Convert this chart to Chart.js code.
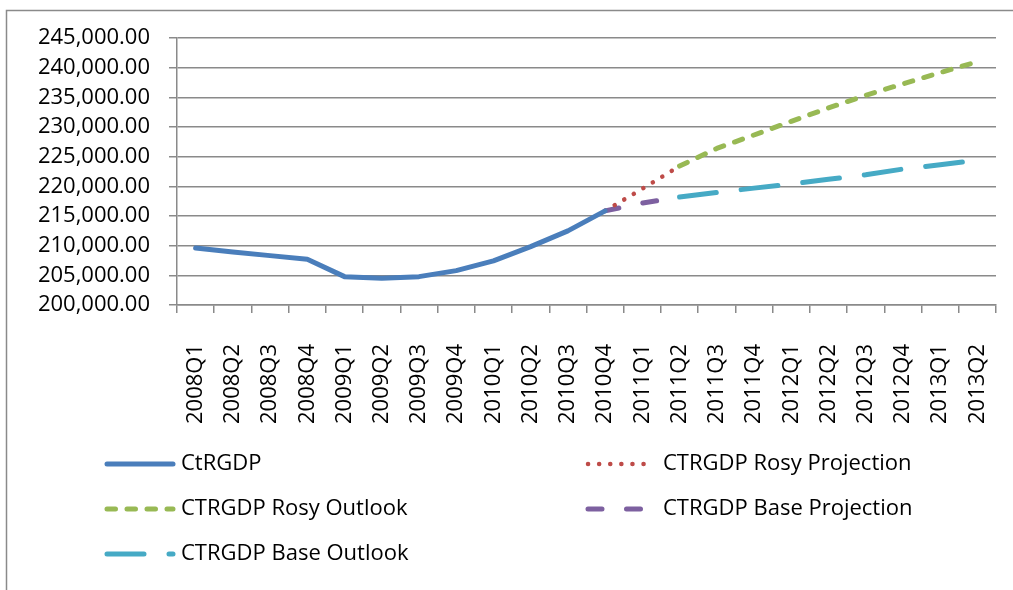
<!DOCTYPE html>
<html>
<head>
<meta charset="utf-8">
<script src="https://cdn.jsdelivr.net/npm/chart.js@4.4.0/dist/chart.umd.min.js"></script>
<style>
  html, body { margin: 0; padding: 0; background: #fff; }
  #wrap { width: 1013px; height: 590px; position: relative; }
</style>
</head>
<body>
<div id="wrap"><canvas id="gdpChart"></canvas></div>
<script>
const quarters = [
    '2008Q1', '2008Q2', '2008Q3', '2008Q4', '2009Q1', '2009Q2', '2009Q3', '2009Q4',
    '2010Q1', '2010Q2', '2010Q3', '2010Q4', '2011Q1', '2011Q2', '2011Q3', '2011Q4',
    '2012Q1', '2012Q2', '2012Q3', '2012Q4', '2013Q1', '2013Q2'
];

// actual real GDP, then the two projections and outlooks
const ctRgdp = [209600, 208950, 208320, 207720, 204780, 204510, 204780, 205790,
    207430, 209840, 212490, 215870, null, null, null, null,
    null, null, null, null, null, null];
const rosyProjection = [null, null, null, null, null, null, null, null,
    null, null, null, 215870, 219590, 223420, null, null,
    null, null, null, null, null, null];
const rosyOutlook = [null, null, null, null, null, null, null, null,
    null, null, null, null, null, 223420, 226390, 228650,
    230950, 233210, 235340, 237270, 239170, 241000];
const baseProjection = [null, null, null, null, null, null, null, null,
    null, null, null, 215870, 217170, 218190, null, null,
    null, null, null, null, null, null];
const baseOutlook = [null, null, null, null, null, null, null, null,
    null, null, null, null, null, 218190, 218960, 219700,
    220380, 221190, 221950, 222910, 223640, 224430];

const seriesLabels = ['CtRGDP', 'CTRGDP Rosy Projection', 'CTRGDP Rosy Outlook',
    'CTRGDP Base Projection', 'CTRGDP Base Outlook'];

const yMin = 200000;
const yMax = 245000;
const yStep = 5000;

const FONT = "'Open Sans', 'DejaVu Sans', sans-serif";
const gridColor = '#8a8a8a';

function makeLine(label, data, color, width, dash) {
    return {
        label: label,
        data: data,
        borderColor: color,
        backgroundColor: color,
        borderWidth: width,
        borderDash: dash,
        borderCapStyle: 'round',
        borderJoinStyle: 'round',
        pointRadius: 0,
        pointHoverRadius: 0,
        tension: 0,
        fill: false,
        spanGaps: false
    };
}

const datasets = [
    makeLine(seriesLabels[0], ctRgdp, '#4a7ebb', 5, []),
    makeLine(seriesLabels[1], rosyProjection, '#be4b48', 4.5, [0.1, 11]),
    makeLine(seriesLabels[2], rosyOutlook, '#98b954', 5, [8.5, 11.5]),
    makeLine(seriesLabels[3], baseProjection, '#7d60a0', 5, [14, 24.5]),
    makeLine(seriesLabels[4], baseOutlook, '#46aac5', 5, [37, 25])
];

// frame around the whole chart + white background
const framePlugin = {
    id: 'frame',
    beforeDraw(chart) {
        const ctx = chart.ctx;
        ctx.save();
        ctx.fillStyle = '#fff';
        ctx.fillRect(0, 0, chart.width, chart.height);
        ctx.strokeStyle = '#8a8a8a';
        ctx.lineWidth = 1.5;
        ctx.strokeRect(6.5, 10.5, chart.width + 20, chart.height + 20);
        ctx.restore();
    }
};

// two-column legend like the spreadsheet one
const legendPlugin = {
    id: 'gridLegend',
    afterDraw(chart) {
        const ctx = chart.ctx;
        const cells = [
            { ds: 0, x: 107, len: 66, tx: 181, y: 464 },
            { ds: 1, x: 588, len: 60, tx: 663, y: 464 },
            { ds: 2, x: 107, len: 66, tx: 181, y: 509 },
            { ds: 3, x: 588, len: 60, tx: 663, y: 509 },
            { ds: 4, x: 107, len: 66, tx: 181, y: 554 }
        ];
        ctx.save();
        cells.forEach(c => {
            const ds = chart.data.datasets[c.ds];
            ctx.beginPath();
            ctx.strokeStyle = ds.borderColor;
            ctx.lineWidth = ds.borderWidth;
            ctx.lineCap = 'round';
            ctx.setLineDash(ds.borderDash);
            ctx.moveTo(c.x, c.y);
            ctx.lineTo(c.x + c.len, c.y);
            ctx.stroke();
            ctx.setLineDash([]);
            ctx.fillStyle = '#000';
            ctx.font = '22px ' + FONT;
            ctx.textBaseline = 'middle';
            ctx.textAlign = 'left';
            ctx.fillText(ds.label, c.tx, c.y);
        });
        ctx.restore();
    }
};

const ctx = document.getElementById('gdpChart').getContext('2d');
const gdpChart = new Chart(ctx, {
    type: 'line',
    data: {
        labels: quarters,
        datasets: datasets
    },
    options: {
        responsive: true,
        maintainAspectRatio: false,
        animation: false,
        layout: {
            padding: { top: 38, right: 17, bottom: 165, left: 0 }
        },
        plugins: {
            legend: { display: false },
            tooltip: { enabled: false }
        },
        scales: {
            x: {
                offset: true,
                grid: {
                    offset: true,
                    drawOnChartArea: false,
                    drawTicks: true,
                    tickLength: 8,
                    color: gridColor,
                    lineWidth: 1.5
                },
                border: { color: gridColor, width: 1.5 },
                ticks: {
                    autoSkip: false,
                    minRotation: 90,
                    maxRotation: 90,
                    padding: 31,
                    color: '#000',
                    font: { family: FONT, size: 22 }
                },
                afterFit(scale) {
                    scale.height = 120;
                    scale.paddingLeft = 0;
                    scale.paddingRight = 0;
                }
            },
            y: {
                min: yMin,
                max: yMax,
                grid: {
                    color: gridColor,
                    lineWidth: 1.5,
                    tickLength: 8
                },
                border: { color: gridColor, width: 1.5 },
                ticks: {
                    stepSize: yStep,
                    padding: 19,
                    color: '#000',
                    font: { family: FONT, size: 22 },
                    callback: v => v.toLocaleString('en-US', { minimumFractionDigits: 2, maximumFractionDigits: 2 })
                },
                afterFit(scale) {
                    scale.width = 177;
                }
            }
        }
    },
    plugins: [framePlugin, legendPlugin]
});
</script>
</body>
</html>
